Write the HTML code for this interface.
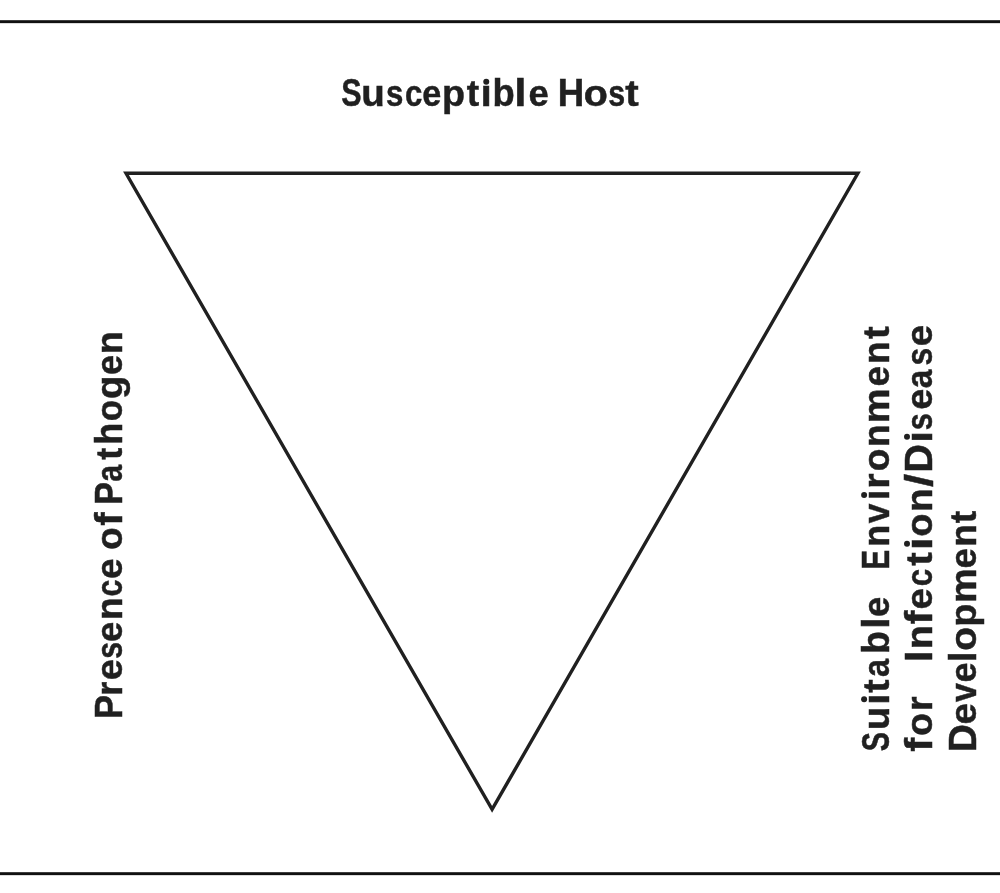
<!DOCTYPE html>
<html><head><meta charset="utf-8">
<style>
html,body{margin:0;padding:0;background:#fff;width:1000px;height:893px;overflow:hidden}
svg{display:block;filter:grayscale(1)}
text{font-family:"Liberation Sans",sans-serif;font-weight:bold;font-size:38.4px;fill:#231f20;stroke:#231f20;stroke-width:0.5px}
</style></head>
<body>
<svg width="1000" height="893" viewBox="0 0 1000 893">
<rect x="0" y="20.2" width="1000" height="2.95" fill="#111"/>
<rect x="0" y="872.2" width="1000" height="2.95" fill="#111"/>
<polygon points="126.0,173.3 857.9,173.3 492.1,809.4" fill="none" stroke="#231f20" stroke-width="3.4" stroke-linejoin="miter" stroke-miterlimit="10"/>
<text transform="matrix(0.7955,0,0,0.9879,341.219,106.350)">S</text>
<text transform="matrix(1.0030,0,0,0.9513,361.362,106.350)">u</text>
<text transform="matrix(0.8135,0,0,0.9513,386.105,106.350)">s</text>
<text transform="matrix(0.8112,0,0,0.9513,404.986,106.350)">c</text>
<text transform="matrix(0.8927,0,0,0.9513,422.184,106.350)">e</text>
<text transform="matrix(0.9824,0,0,0.9513,441.959,106.350)">p</text>
<text transform="matrix(0.9717,0,0,0.9741,466.787,106.350)">t</text>
<text transform="matrix(1.0574,0,0,0.9513,480.589,106.350)">&#305;</text>
<text transform="matrix(0.9471,0,0,1.0243,492.539,106.350)">b</text>
<text transform="matrix(1.1441,0,0,1.0243,514.218,106.350)">l</text>
<text transform="matrix(0.9504,0,0,0.9513,528.512,106.350)">e</text>
<text transform="matrix(0.9534,0,0,0.9879,557.789,106.350)">H</text>
<text transform="matrix(1.0259,0,0,0.9513,583.718,106.350)">o</text>
<text transform="matrix(0.7923,0,0,0.9513,608.128,106.350)">s</text>
<text transform="matrix(1.0526,0,0,0.9741,625.270,106.350)">t</text>
<text transform="matrix(0,-0.9401,0.9879,0,121.550,719.080)">P</text>
<text transform="matrix(0,-0.9326,0.9513,0,121.550,695.827)">r</text>
<text transform="matrix(0,-0.9819,0.9513,0,121.550,680.127)">e</text>
<text transform="matrix(0,-0.7871,0.9513,0,121.550,658.866)">s</text>
<text transform="matrix(0,-0.9504,0.9513,0,121.550,642.088)">e</text>
<text transform="matrix(0,-0.9662,0.9513,0,121.550,619.904)">n</text>
<text transform="matrix(0,-0.7904,0.9513,0,121.550,596.388)">c</text>
<text transform="matrix(0,-0.9609,0.9513,0,121.550,579.001)">e</text>
<text transform="matrix(0,-0.9687,0.9513,0,121.550,550.111)">o</text>
<text transform="matrix(0,-1.0467,1.0243,0,121.550,525.625)">f</text>
<text transform="matrix(0,-0.8861,0.9879,0,121.550,504.655)">P</text>
<text transform="matrix(0,-0.7867,0.9513,0,121.550,481.788)">a</text>
<text transform="matrix(0,-0.9393,0.9741,0,121.550,459.705)">t</text>
<text transform="matrix(0,-0.9368,1.0243,0,121.550,444.678)">h</text>
<text transform="matrix(0,-0.9162,0.9513,0,121.550,421.345)">o</text>
<text transform="matrix(0,-0.9943,0.9513,0,121.550,398.917)">g</text>
<text transform="matrix(0,-0.9399,0.9513,0,121.550,374.975)">e</text>
<text transform="matrix(0,-0.9872,0.9513,0,121.550,354.152)">n</text>
<text transform="matrix(0,-0.7487,0.9879,0,888.750,751.141)">S</text>
<text transform="matrix(0,-1.0030,0.9513,0,888.750,730.238)">u</text>
<text transform="matrix(0,-1.0401,0.9513,0,888.750,704.768)">&#305;</text>
<text transform="matrix(0,-1.0445,0.9741,0,888.750,692.628)">t</text>
<text transform="matrix(0,-0.8439,0.9513,0,888.750,676.938)">a</text>
<text transform="matrix(0,-0.9773,1.0243,0,888.750,653.930)">b</text>
<text transform="matrix(0,-1.0574,1.0243,0,888.750,628.671)">l</text>
<text transform="matrix(0,-0.9504,0.9513,0,888.750,616.888)">e</text>
<text transform="matrix(0,-0.7667,0.9879,0,888.750,569.578)">E</text>
<text transform="matrix(0,-0.9347,0.9513,0,888.750,546.832)">n</text>
<text transform="matrix(0,-0.9193,0.9513,0,888.750,523.208)">v</text>
<text transform="matrix(0,-0.9534,0.9513,0,888.750,500.054)">&#305;</text>
<text transform="matrix(0,-1.0218,0.9513,0,888.750,488.631)">r</text>
<text transform="matrix(0,-0.9639,0.9513,0,888.750,471.205)">o</text>
<text transform="matrix(0,-0.9662,0.9513,0,888.750,447.004)">n</text>
<text transform="matrix(0,-1.0191,0.9513,0,888.750,423.225)">m</text>
<text transform="matrix(0,-0.9557,0.9513,0,888.750,386.495)">e</text>
<text transform="matrix(0,-0.9609,0.9513,0,888.750,363.992)">n</text>
<text transform="matrix(0,-0.9960,0.9741,0,888.750,339.018)">t</text>
<text transform="matrix(0,-1.0861,1.0243,0,931.650,751.841)">f</text>
<text transform="matrix(0,-0.9830,0.9513,0,931.650,735.929)">o</text>
<text transform="matrix(0,-0.9731,0.9513,0,931.650,711.020)">r</text>
<text transform="matrix(0,-1.0611,0.9879,0,931.650,662.061)">I</text>
<text transform="matrix(0,-1.0292,0.9513,0,931.650,649.148)">n</text>
<text transform="matrix(0,-1.0703,1.0243,0,931.650,624.235)">f</text>
<text transform="matrix(0,-0.9925,0.9513,0,931.650,609.441)">e</text>
<text transform="matrix(0,-0.8164,0.9513,0,931.650,586.220)">c</text>
<text transform="matrix(0,-1.0607,0.9741,0,931.650,565.632)">t</text>
<text transform="matrix(0,-1.2134,0.9513,0,931.650,550.296)">&#305;</text>
<text transform="matrix(0,-0.9878,0.9513,0,931.650,536.735)">o</text>
<text transform="matrix(0,-1.0030,0.9513,0,931.650,512.088)">n</text>
<text transform="matrix(0,-1.2382,1.0000,0,931.650,486.955)">/</text>
<text transform="matrix(0,-1.0229,0.9879,0,931.650,472.472)">D</text>
<text transform="matrix(0,-1.0574,0.9513,0,931.650,442.511)">&#305;</text>
<text transform="matrix(0,-0.7976,0.9513,0,931.650,430.177)">s</text>
<text transform="matrix(0,-0.9819,0.9513,0,931.650,409.827)">e</text>
<text transform="matrix(0,-0.8725,0.9513,0,931.650,388.163)">a</text>
<text transform="matrix(0,-0.8293,0.9513,0,931.650,365.512)">s</text>
<text transform="matrix(0,-0.9977,0.9513,0,931.650,346.147)">e</text>
<text transform="matrix(0,-1.0021,0.9879,0,975.750,751.924)">D</text>
<text transform="matrix(0,-0.9977,0.9513,0,975.750,724.547)">e</text>
<text transform="matrix(0,-0.8822,0.9513,0,975.750,701.912)">v</text>
<text transform="matrix(0,-0.9399,0.9513,0,975.750,682.475)">e</text>
<text transform="matrix(0,-0.9707,1.0243,0,975.750,661.960)">l</text>
<text transform="matrix(0,-1.0116,0.9513,0,975.750,650.765)">o</text>
<text transform="matrix(0,-0.9874,0.9513,0,975.750,626.653)">p</text>
<text transform="matrix(0,-1.0158,0.9513,0,975.750,603.117)">m</text>
<text transform="matrix(0,-0.9452,0.9513,0,975.750,568.481)">e</text>
<text transform="matrix(0,-0.9662,0.9513,0,975.750,546.804)">n</text>
<text transform="matrix(0,-0.9798,0.9741,0,975.750,523.214)">t</text>
<g fill="#231f20"><circle cx="486.25" cy="81.70" r="3.0"/><circle cx="864.10" cy="699.20" r="3.0"/><circle cx="864.10" cy="494.95" r="3.0"/><circle cx="907.00" cy="543.80" r="3.0"/><circle cx="907.00" cy="436.85" r="3.0"/></g>
</svg>
</body></html>
